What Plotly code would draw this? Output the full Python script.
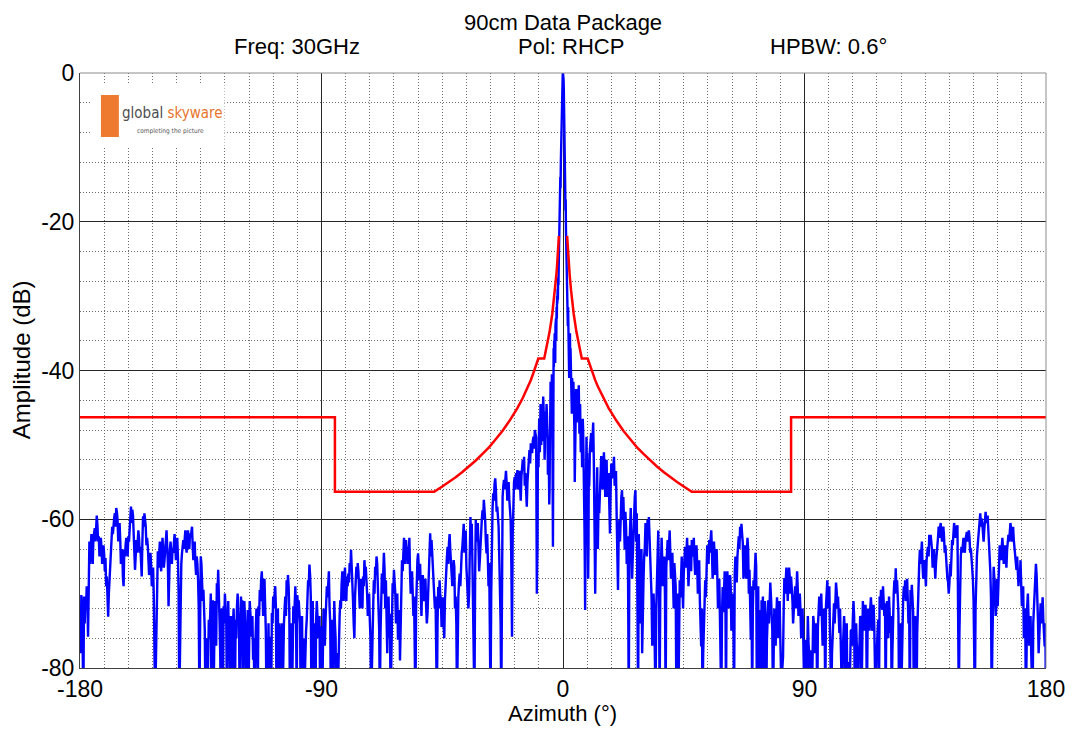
import plotly.graph_objects as go

# ---------------- measured pattern (Azimuth deg -> Amplitude dB), read off the picture ----------------
# main samples plus in-between samples (mid_*)
amp_m180 = [-75.8, -70.2, -77.5, -70.4, -70.9, -69.0, -75.8, -63.0, -63.2, -64.1,
            -62.5, -61.2, -60.5, -60.8, -62.3, -63.9, -63.7, -64.3, -64.6, -65.2,
            -67.7, -73.1, -68.2, -63.7, -61.0, -60.1, -59.2, -58.5, -60.1, -61.2,
            -62.8, -65.5, -67.9, -64.1, -63.4, -63.7, -62.3, -61.4, -58.3, -58.7,
            -61.4, -66.8, -62.8, -62.3, -62.5, -63.7, -67.7, -59.6, -59.2, -61.0,
            -62.5, -65.0, -66.4, -66.1, -67.7, -70.4, -85.0, -74.9, -64.3, -64.1,
            -65.9, -64.3, -64.1, -65.5, -62.3, -63.7, -71.7, -64.1, -64.6, -63.9,
            -63.2, -63.7, -63.0, -65.0, -85.0, -68.2, -64.6, -62.8, -62.3, -63.7,
            -62.1, -63.2, -61.9, -61.7, -63.7, -64.1, -65.9, -65.0, -68.2, -85.0,
            -65.0, -67.7, -69.5, -74.9, -78.0, -85.0, -73.5, -71.7, -85.0, -70.9,
            -74.0, -74.9, -68.6, -66.8, -73.5, -85.0, -75.8, -71.7, -70.0, -73.5,
            -72.6, -76.2, -85.0, -78.0, -74.0, -75.8, -73.5, -71.7, -72.6, -85.0,
            -70.4, -70.9, -72.6, -73.5, -85.0, -72.2, -73.5, -72.6, -75.8, -78.9,
            -85.0, -74.4, -74.9, -71.7, -69.5, -68.2, -70.0, -69.5, -71.7, -85.0,
            -82.0, -85.0, -75.8, -72.6, -70.4, -70.2, -71.7, -73.5, -85.0, -77.1,
            -76.2, -85.0, -74.0, -70.4, -68.2, -67.5, -72.6, -77.1, -85.0, -71.7,
            -70.4, -72.6, -70.2, -70.9, -74.0, -75.8, -85.0, -85.0, -77.1, -73.5,
            -68.2, -66.1, -70.4, -72.6, -85.0, -75.8, -73.5, -73.1, -74.9, -85.0,
            -74.4, -74.0, -74.9, -73.5, -69.0, -68.2, -71.7, -85.0, -73.5, -72.6,
            -74.0, -85.0, -85.0, -75.3, -70.9, -68.6, -69.0, -68.2, -69.5, -67.7,
            -67.3, -65.9, -64.1, -68.2, -74.0, -70.4, -66.4, -65.9, -69.0, -70.9,
            -70.4, -67.7, -65.5, -66.4, -70.0, -71.7, -73.5, -85.0, -77.1, -68.2,
            -66.4, -65.0, -69.0, -74.9, -75.3]
mid_m180 = [-78, -72, -85, -74, -72, -71, -66, -66, -62, -66,
            -61.5, -63, -59.5, -63, -65, -62.5, -66, -63.5, -67, -69,
            -71, -70, -66, -62.5, -62, -59.8, -61, -59, -63, -60.5,
            -66, -64, -69, -65, -62.5, -65, -63, -60, -60.5, -59.5,
            -64, -65, -64.5, -61.5, -64.5, -65, -63, -61, -60, -63.5,
            -63.5, -67.5, -64.5, -69, -66.5, -76, -80, -68, -66.5, -63,
            -67, -62.5, -66.5, -64, -61.5, -66, -67, -63, -66, -64.5,
            -62, -65.5, -62.5, -70, -76, -66, -63.5, -64, -61.5, -64.5,
            -61.5, -64, -62.5, -61, -65.5, -63, -67.5, -66, -72, -72,
            -66, -71, -72, -85, -76, -79, -76, -70, -76, -85,
            -71, -77, -70, -69, -78, -72, -85, -74, -72, -85,
            -71, -74, -73, -85, -72, -85, -76, -70, -74, -77,
            -73, -85, -71, -76, -75, -85, -71, -74, -73, -76,
            -78, -72, -85, -73, -71, -67, -73, -68, -75, -76,
            -74, -78, -85, -74, -72, -69, -85, -72, -74, -85,
            -74, -77, -72, -73, -70, -69, -85, -74, -75, -74,
            -69, -85, -72, -73, -85, -73, -76, -80, -75, -71,
            -69, -67.5, -85, -71, -74, -85, -71, -76, -73, -77,
            -85, -72, -77, -71, -70.5, -67, -74, -76, -85, -71,
            -76, -78, -79, -73, -72, -67, -71, -66.5, -71, -69,
            -68.5, -67, -66, -71, -76, -68, -68, -67, -72, -68,
            -72, -69, -67.5, -68, -73, -70, -76, -79, -72, -70,
            -67.5, -66, -71, -85]

amp_m67 = [-67.3, -67.3, -66.8, -68.2, -78.0, -70.4, -72.7, -78.0, -68.6, -66.8,
           -70.0, -72.7, -76.2, -72.2, -75.3, -65.5, -65.0, -63.7, -62.8, -63.7,
           -64.6, -67.3, -69.1, -70.0, -70.4, -85.0, -66.4, -64.6, -68.2, -70.0,
           -69.1, -68.6, -70.0, -71.8, -72.7, -68.2, -61.9, -62.8, -66.4, -69.1,
           -70.4, -85.0, -69.1, -68.2, -70.9, -72.7, -74.0, -70.9, -67.3, -63.7,
           -63.2, -64.1, -66.4, -67.3, -66.4, -70.4, -85.0, -70.4, -67.3, -65.9,
           -63.7, -60.6, -62.8, -66.4, -69.1, -70.0, -59.7, -60.6, -72.7, -85.0,
           -60.1, -61.9, -63.7, -65.5, -61.5, -58.8, -57.4, -60.1, -64.6, -66.4,
           -65.9, -85.0, -61.9, -56.5, -55.2, -56.1, -58.3, -61.0, -68.2, -85.0,
           -57.0, -54.7, -54.3, -55.2, -56.1, -57.4, -60.1, -75.8, -55.6, -54.3,
           -53.8, -53.4, -54.7, -55.6, -54.3, -52.0, -51.6, -53.8, -58.3, -53.0,
           -50.7, -49.8, -51.1, -48.9, -48.0]
mid_m67 = [-70, -64.5, -72, -74, -72, -76, -85, -72, -70, -68.5,
           -74, -70, -73, -79, -70, -67, -62.5, -66, -64.5, -66,
           -62.5, -70, -67, -73, -76, -72, -65.5, -67, -66, -73,
           -67.5, -71, -68, -74, -70, -64, -65, -64.5, -68, -72,
           -77, -74, -72, -70, -74.5, -70.5, -76, -68, -65, -66,
           -62, -66.5, -69, -65.5, -72, -74, -73, -68.5, -69, -64.5,
           -62, -64.5, -61.5, -68, -72, -64, -62, -66, -76, -68,
           -63, -60.5, -67, -63, -60, -60, -58.5, -63, -62, -69,
           -72, -70, -58.5, -57.5, -54.5, -59, -60, -65, -74, -62,
           -55.5, -56, -53.5, -57.5, -55, -59, -66, -62, -55, -56,
           -55, -56, -53.5, -57.5, -52.5, -53.5, -55.5, -56, -55, -51.5,
           -52.5, -50.5, -49.5, -50.5]

amp_m10 = [-49.0, -70.0, -63.7, -58.0, -49.3, -48.0, -45.8, -47.6, -46.2, -47.1,
           -45.3, -44.9, -46.7, -50.7, -47.6, -46.2, -45.8, -48.9, -51.1, -53.4,
           -56.1, -43.5, -42.6, -41.7, -44.4, -63.7]
mid_m10 = [-56, -66, -52, -53, -46.5, -51, -44.5, -50, -45, -49.5,
           -43.5, -48, -52, -45.5, -49, -44.5, -47.5, -54, -49, -58,
           -50, -41.5, -45, -40.5, -52]

amp_beam = [-37.0, -39.5, -36.0, -38.0, -35.0, -36.5, -39.0, -34.0, -35.5, -33.0,
            -36.0, -31.5, -33.0, -30.0, -31.0, -29.0, -30.5, -27.5, -28.5, -26.0,
            -22.0, -20.0, -18.0, -19.5, -16.0, -14.0, -15.5, -12.0, -9.5, -7.5,
            -5.5, -3.6, -2.0, -0.9, -0.2, 0.0, -0.2, -0.9, -2.1, -3.8,
            -6.0, -8.5, -11.5, -15.0, -18.5, -17.0, -21.0, -24.0, -22.5, -26.5,
            -31.0, -28.5, -32.0, -34.0, -31.5, -35.0, -37.0, -34.5, -41.0, -36.0,
            -38.0, -35.0, -40.0, -37.0, -39.5, -42.0, -38.5, -44.0, -45.8, -41.0,
            -43.5]

amp_p4 = [-44.0, -43.5, -48.0, -52.0, -48.0, -44.4, -44.0, -43.5, -43.5, -45.3,
          -46.7, -47.6, -49.3, -50.2, -48.9, -48.0, -53.4, -61.0, -72.2, -57.9,
          -48.9, -51.1, -57.9, -63.7, -55.6, -50.7]
mid_p4 = [-41.5, -46, -55, -47, -42.5, -47, -42.5, -45.5, -42, -48.5,
          -44.5, -51, -47, -53, -46.5, -51, -56, -66, -63, -52,
          -53, -55, -68, -52, -54]

amp_p10 = [-48.4, -48.5, -52.5, -70.0, -56.1, -64.0, -59.2, -54.7, -53.4, -52.9,
           -53.8, -55.6, -57.0]
mid_p10 = [-51, -47, -60, -62, -53, -58, -56, -51.5, -56, -51, -57, -52]

amp_p17 = [-53.8, -61.9, -52.5, -52.5, -51.6, -54.7, -59.7, -69.5, -60.1, -59.2,
           -56.1, -57.0, -64.1, -61.0, -62.3, -85.0, -60.1, -63.2, -65.0, -58.3,
           -56.1, -59.2, -85.0, -66.4, -68.2, -78.0, -68.2, -63.7, -62.3, -60.1,
           -59.7, -63.7, -70.4, -74.4, -72.7, -85.0, -68.2, -61.5, -85.0, -63.7,
           -65.5, -67.3, -70.4, -66.4, -62.8, -62.8, -64.6, -66.4, -68.2, -65.9,
           -69.1, -73.5, -85.0, -68.2, -66.8, -69.1, -67.3, -63.7, -64.1, -65.5,
           -66.8, -65.0, -62.8, -64.6, -65.5, -64.6, -65.9, -67.3, -70.9, -77.1,
           -85.0, -74.4, -68.2, -66.4, -64.6, -62.8, -62.8, -64.1, -66.4, -64.6,
           -65.5, -67.3, -70.0, -73.5, -85.0, -69.1, -70.0, -68.6, -68.2, -69.1,
           -70.4, -69.1, -72.7, -73.5, -67.3, -66.4, -65.0, -62.3, -61.0, -60.6,
           -63.2, -65.9, -65.5, -64.6, -64.1, -66.8, -76.2, -85.0, -68.2, -66.4,
           -66.4, -73.5, -85.0, -72.2, -70.9, -70.4, -77.1, -73.5, -76.2]
mid_p17 = [-58, -56, -54.5, -53, -55.5, -53.5, -64, -62, -63, -57,
           -60, -62, -59, -66, -68, -64, -58.5, -68, -61, -57,
           -63, -70, -62, -74, -64, -71, -65, -60.5, -65, -62,
           -62, -68, -77, -70, -78, -72, -64, -68, -70, -62.5,
           -69, -65, -85, -64.5, -65.5, -61.5, -68, -64.5, -72, -67,
           -85, -70, -75, -70.5, -65, -72, -65.5, -66.5, -62.5, -69,
           -63.5, -67, -65, -62.5, -67.5, -63.5, -70, -65.5, -74, -72,
           -78, -70, -70.5, -63.5, -66, -64.5, -61.5, -68, -63, -67.5,
           -64, -72, -68, -77, -73, -72.5, -67, -85, -67, -72,
           -67.5, -75, -70, -85, -65, -68.5, -64, -64, -62.5, -62,
           -68, -63.5, -68, -62.5, -70, -72, -69, -72, -69.5, -64.5,
           -85, -69, -75, -85, -72.5, -85, -71, -85]

amp_p76 = [-70.9, -71.7, -70.4, -74.9, -76.2, -74.4, -73.1, -72.6, -73.5, -76.2,
           -85.0, -78.5, -67.9, -68.2, -68.2, -68.2, -67.7, -67.7, -70.9, -72.6,
           -69.0, -69.0, -69.5, -71.7, -72.2, -74.0, -75.3, -85.0, -76.2, -75.8,
           -76.7, -85.0, -77.6, -75.8, -74.0, -76.2, -75.8, -74.4, -70.4, -71.7,
           -73.5, -74.9, -74.4, -71.7, -68.2, -70.9, -75.3, -85.0, -75.3, -71.3,
           -70.0, -69.7, -70.4, -75.3, -77.1, -85.0, -75.8, -75.3, -76.7, -85.0,
           -79.2, -77.1, -74.9, -73.5, -73.1, -75.3, -77.1, -85.0, -76.7, -74.0,
           -73.1, -72.6, -73.1, -74.0, -75.3, -73.1, -72.0, -72.2, -73.5, -74.4,
           -85.0, -77.1, -73.5, -70.4, -69.5, -72.2, -70.9, -71.3, -72.6, -73.5,
           -70.4, -75.3, -85.0, -72.6, -68.2, -66.6, -68.2, -72.6, -77.1, -85.0,
           -73.5, -69.0, -68.2, -69.5, -70.9, -71.7, -69.5, -68.8, -72.6, -74.9,
           -76.2, -75.3, -68.2, -64.1, -64.6, -66.4, -67.3, -67.3, -65.5, -63.7,
           -62.1, -62.1, -64.1, -65.5, -66.1, -65.9, -63.7, -61.0, -61.2, -61.7,
           -61.9, -62.3, -63.5, -66.8, -68.4, -68.6, -67.7, -62.8, -61.7, -61.2,
           -60.9, -60.8, -85.0, -66.4, -63.7, -63.5, -63.9, -62.8, -61.7, -61.9,
           -62.5, -63.9, -66.4, -70.9, -85.0, -66.8, -63.7, -61.0, -59.2, -59.9,
           -61.4, -61.4, -59.0, -60.3, -61.2, -64.6, -70.4, -77.1, -66.4, -69.0,
           -71.7, -71.7, -65.5, -64.1, -63.7, -64.1, -64.8, -65.0, -64.1, -62.1,
           -61.4, -61.4, -62.1, -62.8, -65.0, -66.8, -67.5, -66.8, -65.5, -71.7,
           -69.0, -73.5, -85.0, -71.7, -74.9, -75.8, -78.0, -85.0, -71.3, -67.3,
           -67.5, -73.5, -75.3, -71.3, -72.2, -73.5, -77.1, -85.0]
mid_p76 = [-74, -68.5, -73, -85, -72, -77, -70.5, -76, -71, -79,
           -80, -72, -70, -66.5, -71, -66.5, -70, -69, -74, -70.5,
           -72, -67, -73, -70, -76, -72, -79, -78, -85, -73,
           -78, -80, -85, -73, -78, -74, -85, -72, -73, -70,
           -77, -72, -85, -70, -72, -69, -78, -78, -73, -74,
           -68.5, -72, -73, -72, -80, -78, -73, -85, -74, -80,
           -85, -75, -77, -71, -85, -74, -80, -78, -73, -85,
           -71, -75, -71.5, -85, -72, -75, -70.5, -75, -71.5, -78,
           -78, -75, -85, -72, -71, -69, -73, -85, -71, -76,
           -72, -73, -78, -70, -70, -69.5, -71, -85, -74, -78,
           -71, -70.5, -71, -68, -74, -85, -71, -71, -85, -73,
           -85, -71, -66, -66, -63, -68, -65.5, -69, -64, -65,
           -63.5, -63, -66.5, -64, -68, -65, -62.5, -62.5, -60.5, -63,
           -61, -64.5, -65.5, -68, -70, -66, -65, -63.5, -60.5, -62.5,
           -62, -72, -75, -65, -64.5, -62.5, -64.5, -62, -63, -61.5,
           -64.5, -65, -68, -78, -72, -65, -62.5, -60, -61, -60.5,
           -63, -60, -60.5, -59.5, -63, -67, -85, -70, -68, -73,
           -68, -69, -63.5, -65.5, -62.5, -66, -63.5, -66.5, -62.5, -63,
           -60.5, -63, -61, -64, -66.5, -65, -69, -68, -68.5, -70,
           -76, -72, -75, -70, -77, -73, -80, -74, -69, -66,
           -70, -78, -72, -74, -70.5, -76, -74]


def weave(main, mids):
    out = []
    for i, v in enumerate(main):
        out.append(v)
        if i < len(main) - 1:
            out.append(mids[i] if i < len(mids) else v)
    return out


segments = [(-180.0, 0.25, weave(amp_m180, mid_m180)), (-67.5, 0.25, weave(amp_m67, mid_m67)),
            (-10.0, 0.125, weave(amp_m10, mid_m10)), (-3.5, 0.1, amp_beam),
            (3.75, 0.125, weave(amp_p4, mid_p4)), (10.5, 0.25, weave(amp_p10, mid_p10)),
            (17.0, 0.25, weave(amp_p17, mid_p17)), (76.5, 0.25, weave(amp_p76, mid_p76))]

azimuth, amplitude = [], []
for start, step, vals in segments:
    azimuth += [round(start + step * i, 3) for i in range(len(vals))]
    amplitude += vals

# ---------------- mask (one half, mirrored) ----------------
mask_theta = [1.53, 1.75, 2, 2.25, 2.5, 3, 3.5, 4, 5, 6, 7, 9.2, 10, 11, 12, 13, 15, 17,
              20, 22.5, 25, 27.5, 30, 32.5, 35, 37.5, 40, 42.5, 45, 48, 85, 85, 180]
mask_db = [-21.9, -23.4, -24.8, -26.1, -27.2, -29.2, -30.9, -32.4, -34.8, -36.8, -38.4,
           -38.4, -39.3, -40.3, -41.3, -42.15, -43.7, -45.06, -46.8, -48.1, -49.2, -50.3,
           -51.2, -52.1, -52.9, -53.65, -54.35, -55.0, -55.6, -56.3, -56.3, -46.3, -46.3]

mask_x = [-t for t in reversed(mask_theta)] + [None] + mask_theta
mask_y = list(reversed(mask_db)) + [None] + mask_db

x_ticks = [-180, -90, 0, 90, 180]
y_ticks = [-80, -60, -40, -20, 0]

FONT = "Liberation Sans, Arial, sans-serif"
# page body has an 8px margin: the figure starts at (8, 8) in the window
W, H = 1069, 723
L, R, T, B = 72, 28, 65, 63
# plot area in window pixels
PX0, PX1, PY0, PY1 = 80, 1049, 73, 668


def px(xp):
    return (xp - PX0) / (PX1 - PX0)


def py(yp):
    return (PY1 - yp) / (PY1 - PY0)


fig = go.Figure()
fig.add_trace(go.Scatter(x=azimuth, y=amplitude, mode="lines",
                         line=dict(color="#0000FF", width=2.4), hoverinfo="skip"))
fig.add_trace(go.Scatter(x=mask_x, y=mask_y, mode="lines",
                         line=dict(color="#FF0000", width=2.5), connectgaps=False,
                         hoverinfo="skip"))

axis_common = dict(showgrid=True, gridcolor="#262626", gridwidth=1, zeroline=False,
                   showline=True, linecolor="#404040", linewidth=1, ticks="",
                   tickfont=dict(family=FONT, size=23, color="black"), fixedrange=True)

fig.update_xaxes(range=[-180, 180], tickvals=x_ticks, ticktext=[str(v) for v in x_ticks],
                 minor=dict(tick0=-180, dtick=9, showgrid=True, gridcolor="#707070",
                            griddash="1px,2px", gridwidth=1),
                 **axis_common)
fig.update_yaxes(range=[-80, 0], tickvals=y_ticks, ticktext=[str(v) for v in y_ticks],
                 minor=dict(tick0=-80, dtick=4, showgrid=True, gridcolor="#707070",
                            griddash="1px,2px", gridwidth=1),
                 **axis_common)

ann = []
tf = dict(family=FONT, size=22, color="black")
ann.append(dict(text="90cm Data Package", x=px(564), y=py(8.5), xref="paper", yref="paper",
                showarrow=False, font=tf, xanchor="center", yanchor="top"))
for txt, xc in [("Freq: 30GHz", 298), ("Pol: RHCP", 573), ("HPBW: 0.6°", 831)]:
    ann.append(dict(text=txt, x=px(xc), y=py(47), xref="paper", yref="paper",
                    showarrow=False, font=tf, xanchor="center", yanchor="middle"))
ann.append(dict(text="Azimuth (°)", x=px(564), y=py(713), xref="paper", yref="paper",
                showarrow=False, font=dict(family=FONT, size=22, color="black"),
                xanchor="center", yanchor="middle"))
ann.append(dict(text="Amplitude (dB)", x=px(22), y=py(360), xref="paper", yref="paper",
                showarrow=False, textangle=-90, font=dict(family=FONT, size=24, color="black"),
                xanchor="center", yanchor="middle"))
# logo
LOGO_FONT = "Liberation Sans Narrow, DejaVu Sans Condensed, Liberation Sans"
ann.append(dict(text="<span style='color:#4d4d4d'>global</span> <span style='color:#E8742C'>skyware</span>",
                x=px(120), y=py(113), xref="paper", yref="paper", showarrow=False,
                font=dict(family=LOGO_FONT, size=15), xanchor="left", yanchor="middle"))
ann.append(dict(text="completing the picture", x=px(135), y=py(131), xref="paper", yref="paper",
                showarrow=False, font=dict(family=LOGO_FONT, size=6.5, color="#555555"),
                xanchor="left", yanchor="middle"))

shapes = [
    dict(type="rect", xref="paper", yref="paper", x0=px(90), x1=px(225), y0=py(146), y1=py(84),
         fillcolor="white", line=dict(width=0), layer="above"),
    dict(type="rect", xref="paper", yref="paper", x0=px(101), x1=px(119), y0=py(137), y1=py(95),
         fillcolor="#EE7A30", line=dict(width=0), layer="above"),
    dict(type="line", xref="paper", yref="paper", x0=0, x1=1, y0=1, y1=1,
         line=dict(color="#8c8c8c", width=1), layer="above"),
    dict(type="line", xref="paper", yref="paper", x0=1, x1=1, y0=0, y1=1,
         line=dict(color="#8c8c8c", width=1), layer="above"),
]

fig.update_layout(width=W, height=H, margin=dict(l=L, r=R, t=T, b=B),
                  paper_bgcolor="white", plot_bgcolor="white", showlegend=False,
                  annotations=ann, shapes=shapes)

fig.write_html("out.html")
